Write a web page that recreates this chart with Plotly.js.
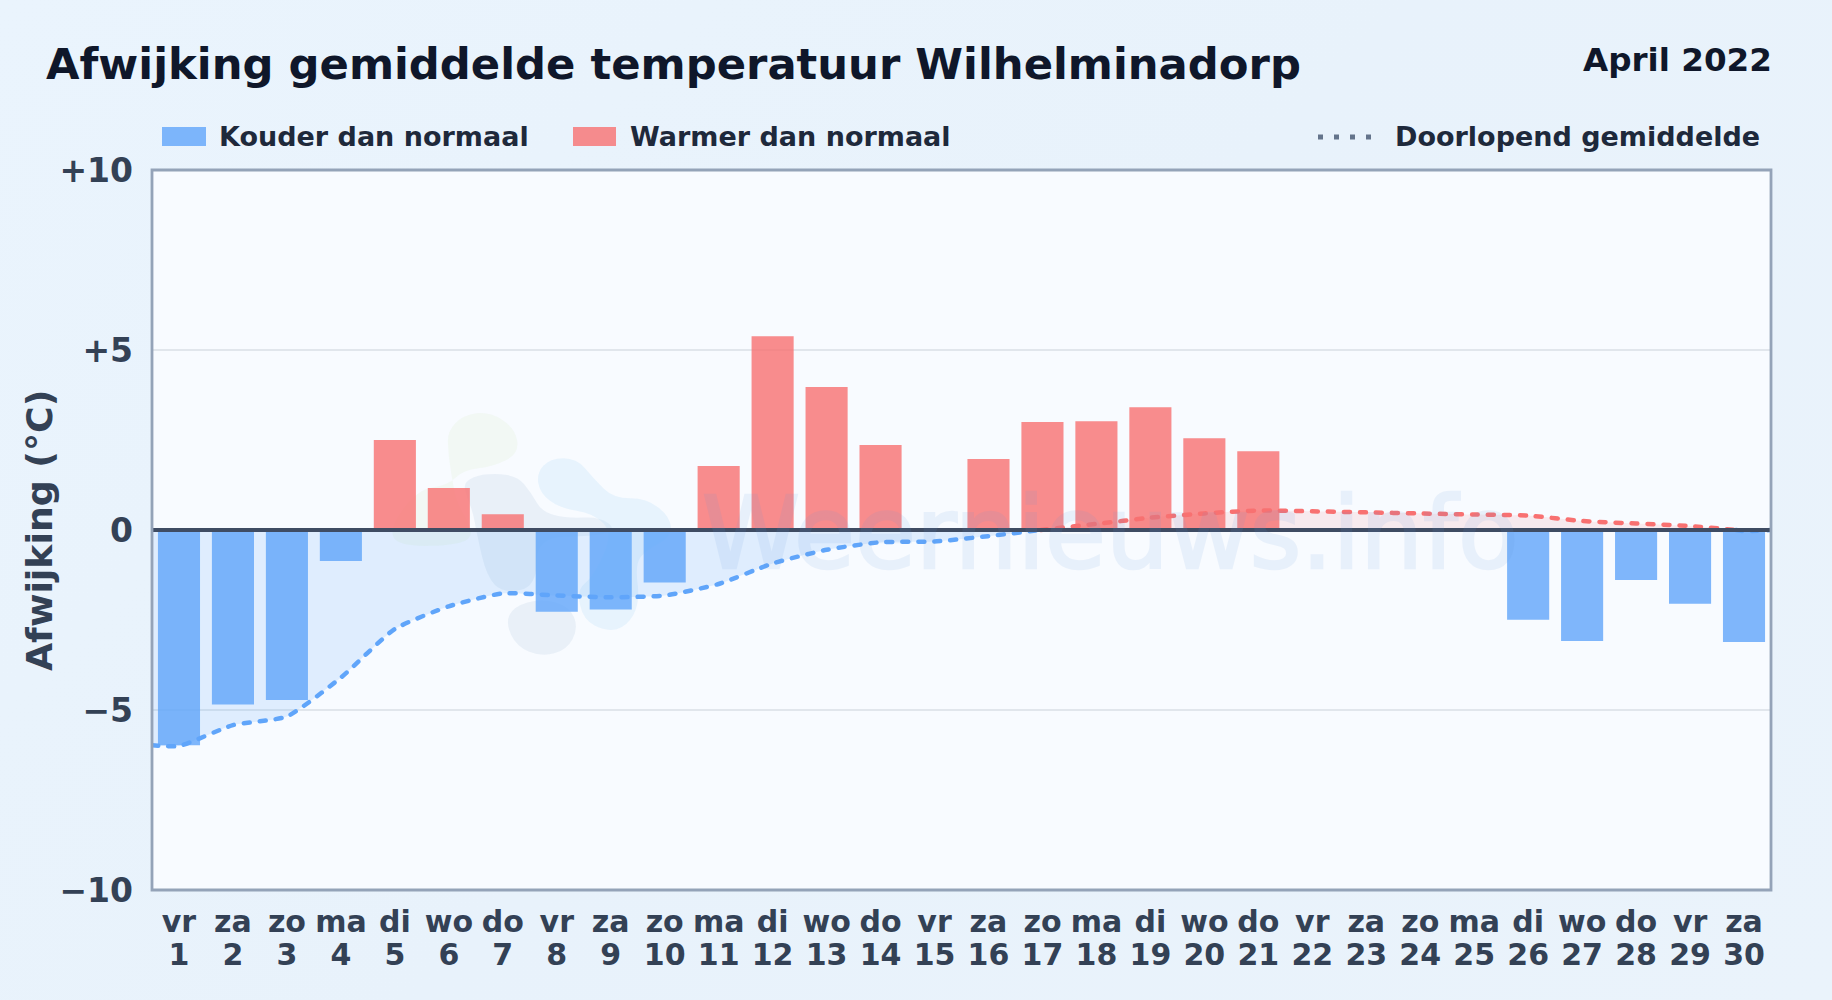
<!DOCTYPE html>
<html>
<head>
<meta charset="utf-8">
<script src="https://cdn.plot.ly/plotly-3.0.1.min.js"></script>
<style>
html,body{margin:0;padding:0;width:1832px;height:1000px;overflow:hidden;background:linear-gradient(135deg,#eaf4fd 0%,#e8f2fb 50%,#eaf3fb 100%);}
#chart{width:1832px;height:1000px;}
.scatterlayer .js-line{stroke-linecap:round;}
.annotation[data-index="0"] .annotation-text{stroke:rgb(96,150,220);stroke-width:2.5px;}
</style>
</head>
<body>
<div id="chart"></div>
<script>
const FONT = '"DejaVu Sans", sans-serif';

const dayNumbers = [1,2,3,4,5,6,7,8,9,10,11,12,13,14,15,16,17,18,19,20,21,22,23,24,25,26,27,28,29,30];
const weekdays = ['vr','za','zo','ma','di','wo','do','vr','za','zo','ma','di','wo','do','vr','za','zo','ma','di','wo','do','vr','za','zo','ma','di','wo','do','vr','za'];
const deviations = [-5.98,-4.85,-4.72,-0.86,2.50,1.17,0.44,-2.27,-2.21,-1.46,1.78,5.38,3.97,2.36,0,1.97,3.00,3.02,3.41,2.55,2.19,0,0,0,0,-2.49,-3.08,-1.39,-2.05,-3.11];

const coldMeanDays = [0.5,1,2,3,4,5,6,7,8,9,10,11,12,13,14,15,16,16.97];
const coldMeanValues = [-5.98,-6.0,-5.42,-5.18,-4.1,-2.75,-2.12,-1.76,-1.82,-1.87,-1.82,-1.5,-0.93,-0.55,-0.34,-0.32,-0.17,0];
const warmMeanDays = [16.97,18,19,20,21,22,23,24,25,26,27,28,29,29.85];
const warmMeanValues = [0,0.17,0.34,0.46,0.54,0.52,0.49,0.46,0.43,0.40,0.25,0.18,0.11,0];
const tailMeanDays = [29.85,30,30.5];
const tailMeanValues = [0,-0.03,0];

const yTickValues = [-10,-5,0,5,10];
const yTickLabels = ['\u221210','\u22125','0','+5','+10'];

const blue = '#60a5fa', red = '#f87171';
const L = 152, R = 1771, T = 170, B = 890, W = R - L, H = B - T;
const px = x => (x - L) / W;
const py = y => (B - y) / H;

// Faint background logo, outlined in reference pixels and smoothed.
const logoGreen = [[262,125],[310,75],[390,65],[465,115],[478,190],[400,230],[310,240],[265,285],[170,300],[85,420],[120,470],[300,465],[345,430],[290,340],[275,260],[265,190]];
const logoSlate = [[310,275],[370,250],[470,255],[515,310],[545,365],[620,385],[720,380],[770,420],[700,440],[530,440],[530,590],[430,610],[380,560],[350,430],[340,370],[320,320]];
const logoSlateLow = [[437,700],[460,650],[545,625],[630,650],[655,715],[620,780],[545,800],[470,770]];
const logoSky = [[530,250],[570,205],[650,205],[700,265],[760,325],[860,325],[930,380],[935,440],[860,480],[825,520],[840,640],[800,710],[740,725],[670,690],[650,600],[700,560],[760,430],[700,370],[600,355],[540,310]];

function blobPath(points) {
  const p = points.map(([x, y]) => [px(360 + x / 3), py(390 + y / 3)]);
  const mid = (a, b) => [(a[0] + b[0]) / 2, (a[1] + b[1]) / 2];
  const start = mid(p[p.length - 1], p[0]);
  let d = `M ${start[0]} ${start[1]}`;
  p.forEach((c, i) => {
    const m = mid(c, p[(i + 1) % p.length]);
    d += ` Q ${c[0]} ${c[1]} ${m[0]} ${m[1]}`;
  });
  return d + ' Z';
}
const blob = (points, color) => ({type:'path', xref:'paper', yref:'paper', layer:'below', path:blobPath(points), fillcolor:color, line:{width:0}});

const rect = (x0, x1, y0, y1, color) => ({type:'rect', xref:'paper', yref:'paper', x0:px(x0), x1:px(x1), y0:py(y0), y1:py(y1), fillcolor:color, line:{width:0}});
const note = (text, x, y, xanchor, size, color, extra) => Object.assign({
  text, xref:'paper', yref:'paper', x:px(x), y:py(y), xanchor, yanchor:'middle', showarrow:false,
  font:{family:FONT, size, color, weight:700}
}, extra || {});

const meanTrace = (x, y, color, fill) => ({
  type:'scatter', mode:'lines', x, y, hoverinfo:'skip', showlegend:false,
  line:{color, width:4.5, dash:'6px,10px', shape:'spline', smoothing:0.55},
  fill:'tozeroy', fillcolor:fill
});

const traces = [
  {type:'bar', x:dayNumbers, y:deviations, width:0.78, showlegend:false,
   marker:{color:deviations.map(v => v < 0 ? 'rgba(96,165,250,0.8)' : 'rgba(248,113,113,0.8)'), line:{width:0}}},
  meanTrace(coldMeanDays, coldMeanValues, blue, 'rgba(96,165,250,0.16)'),
  meanTrace(warmMeanDays, warmMeanValues, red, 'rgba(248,113,113,0.12)'),
  meanTrace(tailMeanDays, tailMeanValues, blue, 'rgba(96,165,250,0.16)'),
  {type:'scatter', mode:'none', x:dayNumbers, y:dayNumbers.map(() => null), xaxis:'x2', hoverinfo:'skip', showlegend:false}
];

const layout = {
  width:1832, height:1000,
  paper_bgcolor:'rgba(0,0,0,0)', plot_bgcolor:'#f8fbff',
  margin:{l:L, r:1832 - R, t:T, b:1000 - B, pad:0},
  showlegend:false,
  font:{family:FONT},
  title:{text:'Afwijking gemiddelde temperatuur Wilhelminadorp', x:46/1832, xanchor:'left', xref:'container',
         y:1 - 64/1000, yanchor:'middle', yref:'container',
         font:{family:FONT, size:43.3, color:'#0f172a', weight:700}},
  xaxis:{range:[0.5,30.5], tickmode:'array', tickvals:dayNumbers, ticktext:weekdays,
         tickfont:{family:FONT, size:30, color:'#334155', weight:700},
         ticks:'', ticklabelstandoff:11, tickangle:0, showgrid:false, zeroline:false,
         showline:false, fixedrange:true},
  xaxis2:{range:[0.5,30.5], overlaying:'x', side:'bottom', anchor:'y', tickmode:'array', tickvals:dayNumbers, ticktext:dayNumbers.map(String),
         tickfont:{family:FONT, size:30, color:'#334155', weight:700},
         ticks:'', ticklabelstandoff:44, tickangle:0, showgrid:false, zeroline:false, showline:false, fixedrange:true},
  yaxis:{range:[-10,10], tickmode:'array', tickvals:yTickValues, ticktext:yTickLabels,
         tickfont:{family:FONT, size:33, color:'#334155', weight:700},
         ticks:'', ticklabelstandoff:18, gridcolor:'#e1e6ec', gridwidth:2, zeroline:false,
         showline:false, fixedrange:true},
  shapes:[
    blob(logoGreen, 'rgba(226,240,214,0.28)'),
    blob(logoSlate, 'rgba(200,215,232,0.30)'),
    blob(logoSlateLow, 'rgba(200,215,232,0.30)'),
    blob(logoSky, 'rgba(191,224,250,0.30)'),
    {type:'line', xref:'paper', yref:'y', x0:0, x1:1, y0:0, y1:0, layer:'above', line:{color:'#3f4c63', width:4}},
    {type:'rect', xref:'paper', yref:'paper', x0:0, x1:1, y0:0, y1:1, layer:'above', line:{color:'#94a3b8', width:2.8}},
    rect(162, 206, 127, 146, 'rgba(96,165,250,0.8)'),
    rect(573, 616, 127, 146, 'rgba(248,113,113,0.8)'),
    {type:'line', xref:'paper', yref:'paper', x0:px(1318), x1:px(1373), y0:py(137), y1:py(137), line:{color:'#64748b', width:5, dash:'5px,11px'}}
  ],
  annotations:[
    {text:'Weernieuws.info', xref:'paper', yref:'paper', x:px(700), y:py(533), xanchor:'left', yanchor:'middle', showarrow:false, opacity:0.10,
     font:{family:FONT, size:99, color:'rgb(96,150,220)', weight:400}},
    note('April 2022', 1773.5, 60, 'right', 32.6, '#0f172a'),
    note('Kouder dan normaal', 217, 137, 'left', 27, '#1e293b'),
    note('Warmer dan normaal', 628, 137, 'left', 27, '#1e293b'),
    note('Doorlopend gemiddelde', 1393, 137, 'left', 27, '#1e293b'),
    note('Afwijking (°C)', 39, 530, 'center', 36.3, '#334155', {textangle:-90})
  ]
};

Plotly.newPlot('chart', traces, layout, {displayModeBar:false, staticPlot:true});
</script>
</body>
</html>
